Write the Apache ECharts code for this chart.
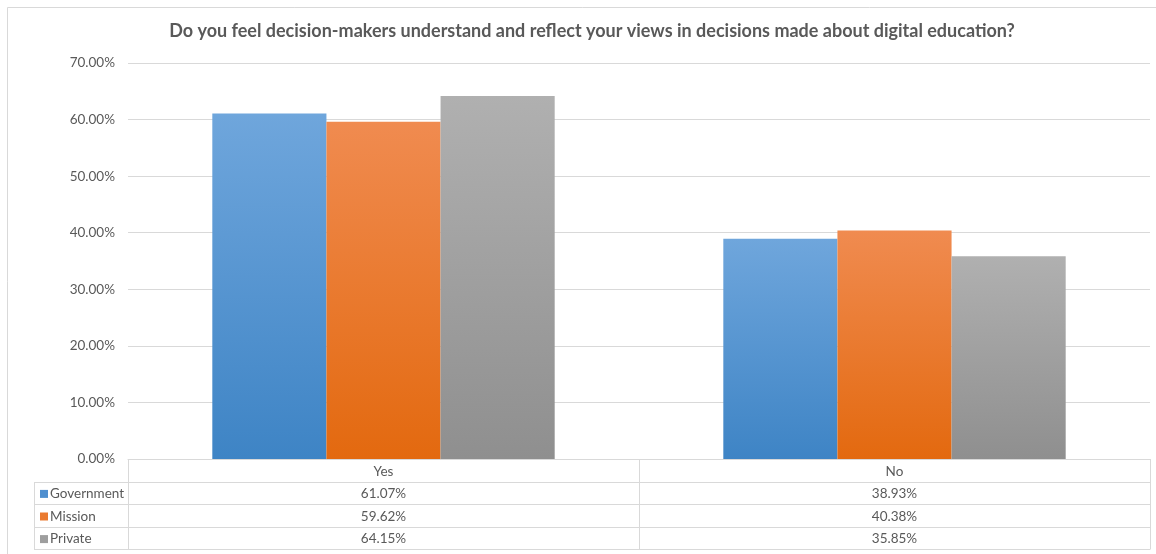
<!DOCTYPE html>
<html><head><meta charset="utf-8">
<script src="https://cdn.jsdelivr.net/npm/echarts@6/dist/echarts.min.js"></script>
<style>html,body{margin:0;padding:0;background:#fff}#c{width:1156px;height:554px}</style>
</head><body><div id="c"></div>
<script>
const chartTitle = 'Do you feel decision-makers understand and reflect your views in decisions made about digital education?';
const categories = ['Yes', 'No'];
const seriesNames = ['Government', 'Mission', 'Private'];
const government = [61.07, 38.93];
const mission = [59.62, 40.38];
const privateVals = [64.15, 35.85];
const yMax = 70;
const yInterval = 10;

const allValues = [government, mission, privateVals];
const topColors = ['#6fa6dc', '#f08b50', '#b0b0b0'];
const bottomColors = ['#3e84c5', '#e3690f', '#8f8f8f'];
const flatColors = ['#4f8fcf', '#ea7a30', '#9e9e9e'];
const FONT = 'Lato';
const TXT = '#595959';
const LINE = '#d9d9d9';

const chart = echarts.init(document.getElementById('c'), null, {renderer: 'canvas'});

const series = seriesNames.map((name, i) => ({
  name: name,
  type: 'bar',
  data: allValues[i],
  barGap: '0%',
  barCategoryGap: '33%',
  itemStyle: {
    color: {type: 'linear', x: 0, y: 0, x2: 0, y2: 1, colorStops: [
      {offset: 0, color: topColors[i]}, {offset: 1, color: bottomColors[i]}]},
    shadowColor: 'rgba(0,0,0,0.18)', shadowBlur: 3, shadowOffsetX: 1, shadowOffsetY: 0
  },
  emphasis: {disabled: true}
}));

chart.setOption({
  animation: false,
  backgroundColor: '#fff',
  title: {
    text: chartTitle, left: 587, top: 17, textAlign: 'center',
    textStyle: {fontFamily: FONT, fontWeight: 'bold', fontSize: 18, color: TXT}
  },
  grid: {left: 128, right: 6, top: 63, bottom: 95},
  xAxis: {
    type: 'category', data: categories,
    axisLine: {show: true, lineStyle: {color: LINE}},
    axisTick: {show: false}, axisLabel: {show: false}
  },
  yAxis: {
    type: 'value', min: 0, max: yMax, interval: yInterval,
    axisLine: {show: false}, axisTick: {show: false},
    splitLine: {lineStyle: {color: LINE}},
    axisLabel: {fontFamily: FONT, fontSize: 13.5, color: TXT, margin: 13,
      formatter: v => v.toFixed(2) + '%'}
  },
  series: series
});

// data table beneath the plot
const c0 = chart.convertToPixel({xAxisIndex: 0}, categories[0]);
const c1 = chart.convertToPixel({xAxisIndex: 0}, categories[1]);
const half = (c1 - c0) / 2;
const xLeft = c0 - half, xMid = c0 + half, xRight = c1 + half;
const y0 = chart.convertToPixel({yAxisIndex: 0}, 0);
const rowH = 22.6;
const tableLeft = 34;
const els = [];
const lineStyle = {stroke: LINE, lineWidth: 1};
// frame
els.push({type: 'rect', shape: {x: 7.5, y: 7.5, width: 1160, height: 560}, style: {fill: null, stroke: LINE, lineWidth: 1}, silent: true});
// horizontal lines
for (let r = 1; r <= 4; r++) {
  const y = Math.round(y0 + r * rowH) + 0.5;
  els.push({type: 'line', shape: {x1: tableLeft, y1: y, x2: xRight, y2: y}, style: lineStyle, silent: true});
}
const yBottom = Math.round(y0 + 4 * rowH) + 0.5;
const yRow1 = Math.round(y0 + rowH) + 0.5;
els.push({type: 'line', shape: {x1: tableLeft + 0.5, y1: yRow1, x2: tableLeft + 0.5, y2: yBottom}, style: lineStyle, silent: true});
[xLeft, xMid, xRight].forEach(x => {
  const xx = Math.round(x) + 0.5;
  els.push({type: 'line', shape: {x1: xx, y1: y0, x2: xx, y2: yBottom}, style: lineStyle, silent: true});
});
// header
categories.forEach((cat, j) => {
  const cx = j === 0 ? c0 : c1;
  els.push({type: 'text', x: cx, y: y0 + rowH / 2 + 1, silent: true,
    style: {text: cat, fill: TXT, font: '13.5px ' + FONT, align: 'center', verticalAlign: 'middle'}});
});
// rows
seriesNames.forEach((name, i) => {
  const cy = y0 + (i + 1.5) * rowH + 1;
  els.push({type: 'rect', shape: {x: 40, y: cy - 4, width: 8, height: 8}, style: {fill: flatColors[i]}, silent: true});
  els.push({type: 'text', x: 50, y: cy, silent: true,
    style: {text: name, fill: TXT, font: '13.5px ' + FONT, align: 'left', verticalAlign: 'middle'}});
  allValues[i].forEach((v, j) => {
    const cx = j === 0 ? c0 : c1;
    els.push({type: 'text', x: cx, y: cy, silent: true,
      style: {text: v.toFixed(2) + '%', fill: TXT, font: '13.5px ' + FONT, align: 'center', verticalAlign: 'middle'}});
  });
});
chart.setOption({graphic: els});
</script>
</body></html>
